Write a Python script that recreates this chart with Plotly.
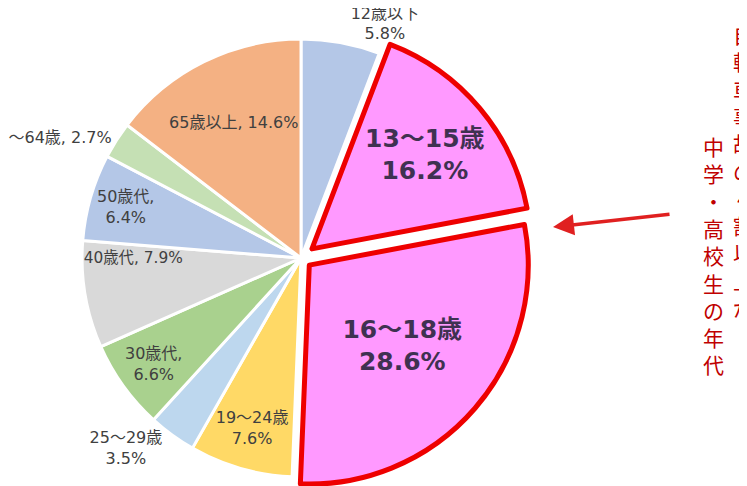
import plotly.graph_objects as go

# age groups, clockwise from 12 o'clock
labels = ["12歳以下", "13～15歳", "16～18歳", "19～24歳", "25～29歳",
          "30歳代", "40歳代", "50歳代", "60～64歳", "65歳以上"]
shares = [5.8, 16.2, 28.6, 7.6, 3.5, 6.6, 7.9, 6.4, 2.7, 14.6]
colors = ["#B4C7E7", "#FF99FF", "#FF99FF", "#FFD966", "#BDD7EE",
          "#A9D18E", "#D9D9D9", "#B4C7E7", "#C5E0B4", "#F4B183"]

# slices for junior / senior high school age are highlighted
highlight = ["13～15歳", "16～18歳"]
two_lines = ["12歳以下", "19～24歳", "25～29歳", "30歳代", "50歳代"]
outside = ["12歳以下", "25～29歳", "60～64歳"]

note_right = "自転車事故の４割以上が"
note_left = "中学・高校生の年代"

FONT = "DejaVu Sans, Noto Sans CJK JP, sans-serif"
CJK = "Noto Sans CJK JP, sans-serif"
TEXT_GREY = "#404040"
PURPLE = "#3F3151"
RED = "#EE0000"

# the page sits 8px in from the top-left corner; the bottom of the figure is cut
W, H = 747, 500

templates, positions, sizes, tcolors, lcolors, lwidths, pulls = [], [], [], [], [], [], []
for lab in labels:
    if lab in highlight:
        templates.append("<b>%{label}<br>%{value:.1f}%</b>")
        sizes.append(25)
        tcolors.append(PURPLE)
        lcolors.append(RED)
        lwidths.append(5)
    else:
        sep = ",<br>" if lab in ["30歳代", "50歳代"] else ("<br>" if lab in two_lines else ", ")
        templates.append("%{label}" + sep + "%{value:.1f}%")
        sizes.append(16)
        tcolors.append(TEXT_GREY)
        lcolors.append("white")
        lwidths.append(3)
    positions.append("outside" if lab in outside else "inside")
    pulls.append({"13～15歳": 0.065, "16～18歳": 0.05}.get(lab, 0))

fig = go.Figure(
    go.Pie(
        labels=labels,
        values=shares,
        sort=False,
        direction="clockwise",
        rotation=0,
        pull=pulls,
        marker=dict(colors=colors, line=dict(color=lcolors, width=lwidths)),
        texttemplate=templates,
        textposition=positions,
        insidetextorientation="horizontal",
        insidetextfont=dict(family=FONT, size=sizes, color=tcolors),
        outsidetextfont=dict(family=FONT, size=16, color=TEXT_GREY),
        automargin=False,
        hoverinfo="skip",
        domain=dict(x=[0.0801, 0.7044], y=[0.0336, 0.9664]),
    )
)

fig.add_annotation(
    x=0.984, y=0.982, xref="paper", yref="paper", xanchor="center", yanchor="top",
    text="<br>".join(note_right), showarrow=False,
    font=dict(family=CJK, size=21, color="#C00000"),
)
fig.add_annotation(
    x=0.9438, y=0.758, xref="paper", yref="paper", xanchor="center", yanchor="top",
    text="<br>".join(note_left), showarrow=False,
    font=dict(family=CJK, size=21, color="#C00000"),
)
# arrow pointing at the highlighted slices
fig.add_annotation(
    x=0.7296, y=0.562, xref="paper", yref="paper",
    ax=118, ay=-13,
    text="", showarrow=True, arrowhead=2, arrowsize=1.2, arrowwidth=3.5,
    arrowcolor="#E02020",
)

fig.update_layout(
    width=W,
    height=H,
    margin=dict(l=0, r=0, t=0, b=0, autoexpand=False),
    paper_bgcolor="white",
    plot_bgcolor="white",
    showlegend=False,
    font=dict(family=FONT, color=TEXT_GREY),
)

fig.write_html("out.html")
